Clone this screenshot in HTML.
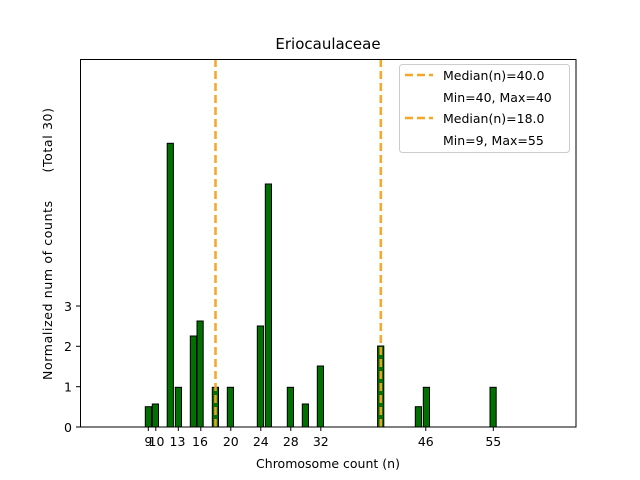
<!DOCTYPE html>
<html><head><meta charset="utf-8"><style>body{margin:0;background:#fff}svg{display:block}</style></head><body>
<svg width="640" height="480" xmlns="http://www.w3.org/2000/svg" font-family="'DejaVu Sans', 'Liberation Sans', sans-serif">
<rect width="640" height="480" fill="#fff"/>
<g fill="#007000" stroke="#000" stroke-width="1">
<rect x="145.3" y="406.7" width="6.2" height="20.3"/>
<rect x="152.3" y="404" width="6.2" height="23"/>
<rect x="167.2" y="143.3" width="6.2" height="283.7"/>
<rect x="175.3" y="387.3" width="6.2" height="39.7"/>
<rect x="190.3" y="336" width="6.2" height="91"/>
<rect x="197" y="321" width="6.2" height="106"/>
<rect x="212.3" y="387.3" width="6.2" height="39.7"/>
<rect x="227.3" y="387.3" width="6.2" height="39.7"/>
<rect x="257.3" y="326" width="6.2" height="101"/>
<rect x="265.3" y="184" width="6.2" height="243"/>
<rect x="287.3" y="387.3" width="6.2" height="39.7"/>
<rect x="302.3" y="404" width="6.2" height="23"/>
<rect x="317.3" y="366" width="6.2" height="61"/>
<rect x="377.6" y="346" width="6.2" height="81"/>
<rect x="415.3" y="406.7" width="6.2" height="20.3"/>
<rect x="423.3" y="387.3" width="6.2" height="39.7"/>
<rect x="490" y="387.3" width="6.2" height="39.7"/>
</g>
<g stroke="#f5a623" stroke-width="2.6" stroke-dasharray="8,4" opacity="0.95">
<line x1="215.5" y1="59" x2="215.5" y2="427"/>
<line x1="380.8" y1="59" x2="380.8" y2="427"/>
</g>
<rect x="80.5" y="59.5" width="495.5" height="367.5" fill="none" stroke="#000" stroke-width="1"/>
<g stroke="#000" stroke-width="1">
<line x1="80" y1="427" x2="76" y2="427"/><line x1="80" y1="386.7" x2="76" y2="386.7"/>
<line x1="80" y1="346.3" x2="76" y2="346.3"/><line x1="80" y1="306" x2="76" y2="306"/>
<line x1="148.3" y1="427" x2="148.3" y2="431"/><line x1="155.8" y1="427" x2="155.8" y2="431"/>
<line x1="178.3" y1="427" x2="178.3" y2="431"/><line x1="200.8" y1="427" x2="200.8" y2="431"/>
<line x1="230.8" y1="427" x2="230.8" y2="431"/><line x1="260.8" y1="427" x2="260.8" y2="431"/>
<line x1="290.8" y1="427" x2="290.8" y2="431"/><line x1="320.8" y1="427" x2="320.8" y2="431"/>
<line x1="425.8" y1="427" x2="425.8" y2="431"/><line x1="493.3" y1="427" x2="493.3" y2="431"/>
</g>
<g font-size="12.5" fill="#000" text-anchor="end">
<text x="72" y="432">0</text><text x="72" y="391.5">1</text><text x="72" y="351">2</text><text x="72" y="311">3</text>
</g>
<g font-size="12.5" fill="#000" text-anchor="middle">
<text x="148.3" y="446">9</text><text x="156.5" y="446">10</text><text x="177.5" y="446">13</text>
<text x="200" y="446">16</text><text x="230.8" y="446">20</text><text x="260.8" y="446">24</text>
<text x="290.8" y="446">28</text><text x="320.8" y="446">32</text><text x="425.8" y="446">46</text>
<text x="493.3" y="446">55</text>
<text x="328" y="468">Chromosome count (n)</text>
<text x="328" y="49" font-size="15">Eriocaulaceae</text>
</g>
<text transform="translate(52,380) rotate(-90)" font-size="12.5" xml:space="preserve" textLength="272" lengthAdjust="spacing">Normalized num of counts      (Total 30)</text>
<rect x="399.5" y="64.5" width="170" height="88" rx="3" fill="#fff" fill-opacity="0.85" stroke="#ccc"/>
<g stroke="#f5a623" stroke-width="2.6" stroke-dasharray="8,4">
<line x1="405" y1="75" x2="433" y2="75"/>
<line x1="405" y1="118" x2="433" y2="118"/>
</g>
<g font-size="12.5" fill="#000">
<text x="443" y="80">Median(n)=40.0</text>
<text x="443" y="102">Min=40, Max=40</text>
<text x="443" y="123">Median(n)=18.0</text>
<text x="443" y="145">Min=9, Max=55</text>
</g>
</svg>
</body></html>
